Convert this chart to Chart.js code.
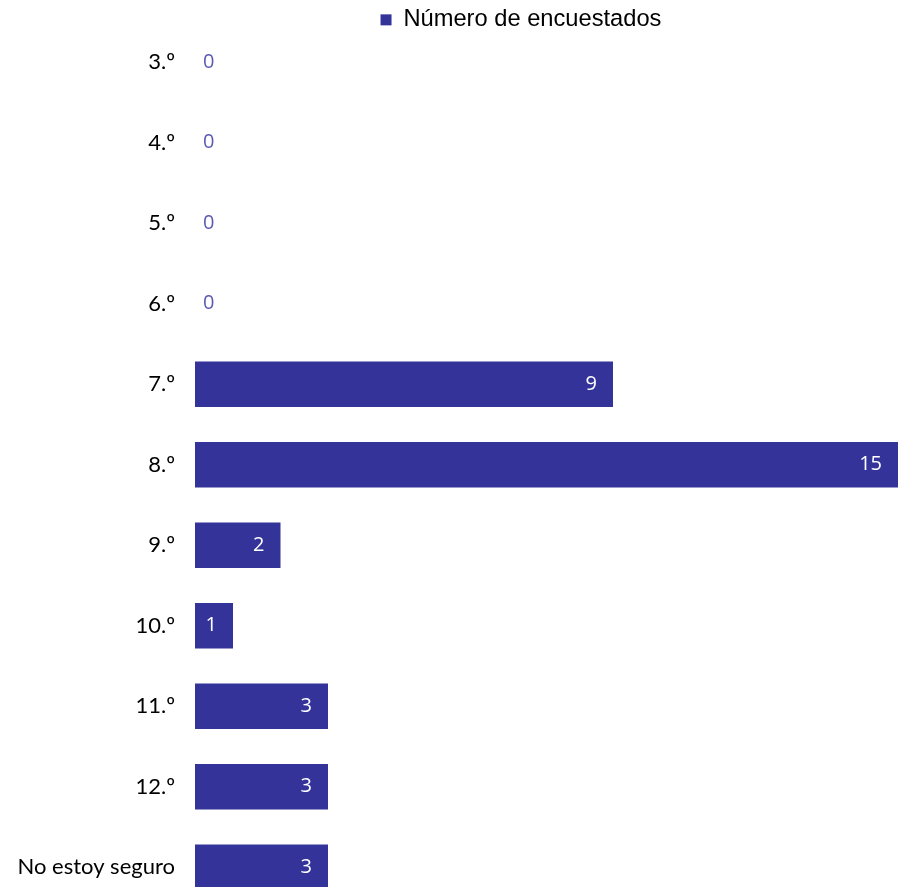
<!DOCTYPE html>
<html>
<head>
<meta charset="utf-8">
<script src="https://cdn.jsdelivr.net/npm/chart.js@4/dist/chart.umd.min.js"></script>
<style>
  html, body { margin: 0; padding: 0; background: #fff; overflow: hidden; }
  #wrap { position: relative; width: 906px; height: 908px; }
</style>
</head>
<body>
<div id="wrap"><canvas id="myChart"></canvas></div>
<script>
// data
var categories = ['3.º', '4.º', '5.º', '6.º', '7.º', '8.º', '9.º', '10.º', '11.º', '12.º', 'No estoy seguro'];
var respondents = [0, 0, 0, 0, 9, 15, 2, 1, 3, 3, 3];
var seriesName = 'Número de encuestados';

var barColor = '#333399';

// value labels at the end of each bar (zeros sit just right of the axis)
var valueLabels = {
    id: 'valueLabels',
    afterDatasetsDraw: function(chart) {
        var ctx = chart.ctx;
        var area = chart.chartArea;
        var meta = chart.getDatasetMeta(0);
        ctx.save();
        ctx.font = '20px "Open Sans", "Noto Sans", sans-serif';
        ctx.textBaseline = 'middle';
        meta.data.forEach(function(bar, i) {
            var v = respondents[i];
            if (v > 0) {
                ctx.fillStyle = '#ffffff';
                ctx.textAlign = 'right';
                ctx.fillText(String(v), bar.x - 16, bar.y);
            } else {
                ctx.fillStyle = '#5a5ab4';
                ctx.textAlign = 'left';
                ctx.fillText(String(v), area.left + 8, bar.y);
            }
        });
        ctx.restore();
    }
};

// legend sits a bit right of the canvas centre and overlaps the plot top
var legendSpot = {
    id: 'legendSpot',
    afterLayout: function(chart) {
        var lg = chart.legend;
        lg.left = 144;
        lg.bottom = 40;
    }
};

var ctx = document.getElementById('myChart').getContext('2d');
var myChart = new Chart(ctx, {
    type: 'bar',
    data: {
        labels: categories,
        datasets: [{
            label: seriesName,
            data: respondents,
            backgroundColor: barColor,
            borderWidth: 0,
            categoryPercentage: 1,
            barPercentage: 0.566
        }]
    },
    options: {
        indexAxis: 'y',
        responsive: true,
        maintainAspectRatio: false,
        animation: false,
        layout: { padding: { left: 0, right: 8, top: 0, bottom: 0 } },
        scales: {
            x: {
                min: 0.2,
                max: 15,
                display: false
            },
            y: {
                grid: { display: false, drawTicks: true, tickLength: 20 },
                border: { display: false },
                ticks: {
                    color: '#000000',
                    padding: 0,
                    font: { family: 'Lato, "Noto Sans", sans-serif', size: 22, lineHeight: 0.05 }
                },
                afterFit: function(scale) { scale.width = 195; }
            }
        },
        plugins: {
            legend: {
                position: 'top',
                maxHeight: 22,
                labels: {
                    color: '#000000',
                    boxWidth: 11,
                    boxHeight: 11,
                    padding: 8,
                    font: { family: '"Liberation Sans", Arial, sans-serif', size: 23.7 }
                }
            },
            tooltip: { enabled: false }
        }
    },
    plugins: [valueLabels, legendSpot]
});
</script>
</body>
</html>
